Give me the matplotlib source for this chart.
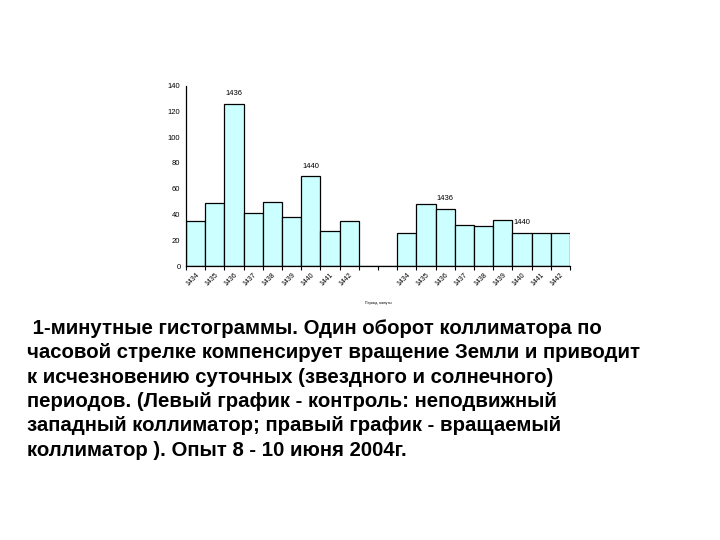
import numpy as np
import matplotlib
matplotlib.use("Agg")
import matplotlib.pyplot as plt

# Left group: fixed collimator, right group: rotating collimator
periods = ["1434", "1435", "1436", "1437", "1438", "1439", "1440", "1441", "1442"]
left_counts = [35, 49, 126, 41, 50, 38, 70, 27, 35]
right_counts = [26, 48, 44, 32, 31, 36, 26, 26, 26]
gap_slots = 2

tick_labels = periods + [""] * gap_slots + periods
values = left_counts + [0] * gap_slots + right_counts

caption = (
    " 1-минутные гистограммы. Один оборот коллиматора по\n"
    "часовой стрелке компенсирует вращение Земли и приводит\n"
    "к исчезновению суточных (звездного и солнечного)\n"
    "периодов. (Левый график - контроль: неподвижный\n"
    "западный коллиматор; правый график - вращаемый\n"
    "коллиматор ). Опыт 8 - 10 июня 2004г."
)


def main():
    plt.rcParams["font.family"] = ["Liberation Sans", "DejaVu Sans"]
    fig = plt.figure(figsize=(7.2, 5.4), dpi=100)
    ax = fig.add_axes([0.2583, 0.5074, 0.5334, 0.3339])

    x = np.arange(len(values))
    ax.bar(x + 0.5, values, width=1.0, color="#ccffff",
           edgecolor="black", linewidth=0.9)

    ax.set_xlim(0, len(values))
    ax.set_ylim(0, 140)
    ax.set_yticks(np.arange(0, 141, 20))
    ax.tick_params(axis="y", labelsize=5.5, length=0, pad=4)

    ax.set_xticks(x + 0.5)
    ax.set_xticklabels(tick_labels, rotation=45, ha="right",
                       rotation_mode="anchor", fontsize=5)
    ax.set_xticks(np.arange(0, len(values) + 1), minor=True)
    ax.tick_params(axis="x", which="major", length=0, pad=4)
    ax.tick_params(axis="x", which="minor", length=3, width=0.8)

    for side in ("top", "right"):
        ax.spines[side].set_visible(False)
    ax.spines["left"].set_linewidth(0.9)
    ax.spines["bottom"].set_linewidth(0.9)

    # peak labels
    ax.text(2.5, 134, "1436", ha="center", va="center", fontsize=5.5)
    ax.text(6.5, 77, "1440", ha="center", va="center", fontsize=5.5)
    ax.text(13.05, 52.5, "1436", ha="left", va="center", fontsize=5.5)
    ax.text(17.05, 34, "1440", ha="left", va="center", fontsize=5.5)

    fig.text(378 / 720, 1 - 303 / 540, "Период, минуты",
             ha="center", va="center", fontsize=2.5)

    fig.text(27 / 720, 1 - 319 / 540, caption, ha="left", va="top",
             fontsize=14.7, fontweight="bold", linespacing=1.355)

    fig.savefig("out.png", dpi=100)
    plt.close(fig)


if __name__ == "__main__":
    main()
